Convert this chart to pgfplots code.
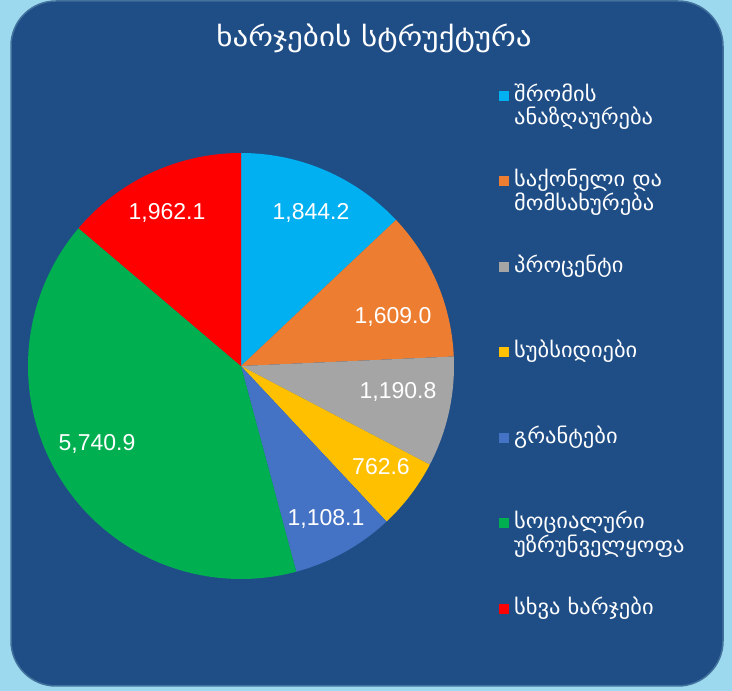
\documentclass[border=0pt]{standalone}
\usepackage{fontspec}
\setmainfont{DejaVu Sans}
\newfontfamily\arial{Liberation Sans}
\newfontfamily\geotitle[FakeStretch=1.15]{DejaVu Sans}
\newfontfamily\geoleg[FakeStretch=1.07]{DejaVu Sans}
\usepackage{pgfplots}
\pgfplotsset{compat=1.18}
\definecolor{outerbg}{HTML}{9DD9EE}
\definecolor{innerbg}{HTML}{1F4E87}
\definecolor{borderc}{HTML}{41719C}
\definecolor{cA}{HTML}{00B0F0}
\definecolor{cB}{HTML}{ED7D31}
\definecolor{cC}{HTML}{A5A5A5}
\definecolor{cD}{HTML}{FFC000}
\definecolor{cE}{HTML}{4472C4}
\definecolor{cF}{HTML}{00B050}
\definecolor{cG}{HTML}{FF0000}
% values
\def\vA{1844.2}\def\vB{1609.0}\def\vC{1190.8}\def\vD{762.6}
\def\vE{1108.1}\def\vF{5740.9}\def\vG{1962.1}
\pgfmathsetmacro\tot{\vA+\vB+\vC+\vD+\vE+\vF+\vG}
\pgfmathsetmacro\aA{90}
\pgfmathsetmacro\aB{\aA-360*(\vA/\tot)}
\pgfmathsetmacro\aC{\aB-360*(\vB/\tot)}
\pgfmathsetmacro\aD{\aC-360*(\vC/\tot)}
\pgfmathsetmacro\aE{\aD-360*(\vD/\tot)}
\pgfmathsetmacro\aF{\aE-360*(\vE/\tot)}
\pgfmathsetmacro\aG{\aF-360*(\vF/\tot)}
\pgfmathsetmacro\aH{\aG-360*(\vG/\tot)}
\def\cx{241}\def\cy{325}\def\rr{213}
\newcommand\two[2]{\vtop{\hbox{#1}\hbox{#2}}}
\begin{document}
\begin{tikzpicture}
\fill[outerbg] (0,0) rectangle (732bp,691bp);
\draw[fill=innerbg, draw=borderc, line width=1.5bp, rounded corners=45bp] (11bp,5bp) rectangle (723bp,690bp);
\begin{axis}[
  x=1bp, y=1bp, xmin=0, xmax=732, ymin=0, ymax=691,
  anchor=origin, at={(0,0)}, hide axis, clip=false,
  legend image code/.code={\fill[#1,draw=none] (0bp,0.5bp) rectangle (10bp,10.5bp);},
  legend cell align=left,
  legend style={at={(axis cs:499,605)}, anchor=north west, draw=none, fill=none,
    inner sep=0pt, column sep=5bp, row sep=0pt, text=white,
    font=\geoleg\fontsize{21bp}{23.5bp}\selectfont,
    nodes={inner sep=0pt, text height=15bp, text depth=70.5bp, anchor=base west}},
]
\addplot[fill=cA, draw=none, domain=\aB:\aA, samples=80] ({\cx+\rr*cos(x)},{\cy+\rr*sin(x)}) -- (axis cs:\cx,\cy) -- cycle;
\addlegendentry{\two{შრომის}{ანაზღაურება}}
\addplot[fill=cB, draw=none, domain=\aC:\aB, samples=80] ({\cx+\rr*cos(x)},{\cy+\rr*sin(x)}) -- (axis cs:\cx,\cy) -- cycle;
\addlegendentry{\two{საქონელი და}{მომსახურება}}
\addplot[fill=cC, draw=none, domain=\aD:\aC, samples=80] ({\cx+\rr*cos(x)},{\cy+\rr*sin(x)}) -- (axis cs:\cx,\cy) -- cycle;
\addlegendentry{პროცენტი}
\addplot[fill=cD, draw=none, domain=\aE:\aD, samples=80] ({\cx+\rr*cos(x)},{\cy+\rr*sin(x)}) -- (axis cs:\cx,\cy) -- cycle;
\addlegendentry{სუბსიდიები}
\addplot[fill=cE, draw=none, domain=\aF:\aE, samples=80] ({\cx+\rr*cos(x)},{\cy+\rr*sin(x)}) -- (axis cs:\cx,\cy) -- cycle;
\addlegendentry{გრანტები}
\addplot[fill=cF, draw=none, domain=\aG:\aF, samples=120] ({\cx+\rr*cos(x)},{\cy+\rr*sin(x)}) -- (axis cs:\cx,\cy) -- cycle;
\addlegendentry{\two{სოციალური}{უზრუნველყოფა}}
\addplot[fill=cG, draw=none, domain=\aH:\aG, samples=80] ({\cx+\rr*cos(x)},{\cy+\rr*sin(x)}) -- (axis cs:\cx,\cy) -- cycle;
\addlegendentry{სხვა ხარჯები}
% labels
\begin{scope}[every node/.style={text=white, font=\arial\fontsize{23bp}{27bp}\selectfont}]
\node at (axis cs:311,478) {1,844.2};
\node at (axis cs:393,374) {1,609.0};
\node at (axis cs:398,299) {1,190.8};
\node at (axis cs:381,224) {762.6};
\node at (axis cs:326,172) {1,108.1};
\node at (axis cs:97,247) {5,740.9};
\node at (axis cs:167,478) {1,962.1};
\end{scope}
\node[text=white, font=\geotitle\fontsize{27bp}{30bp}\selectfont] at (axis cs:374,653) {ხარჯების სტრუქტურა};
\end{axis}
\end{tikzpicture}
\end{document}
